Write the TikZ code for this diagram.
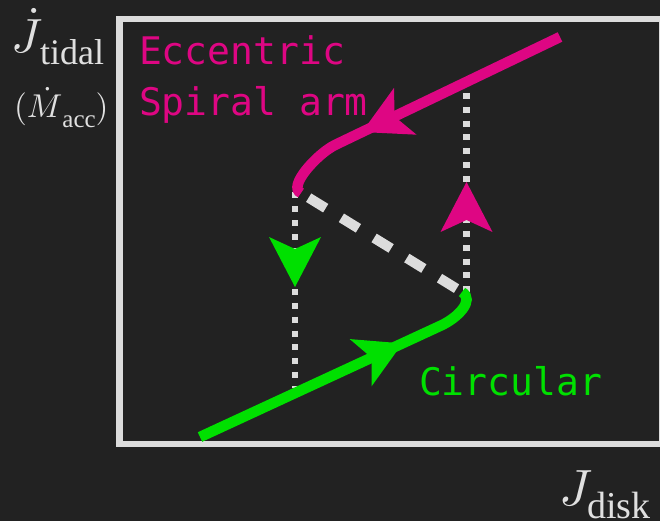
\documentclass[tikz,border=0pt]{standalone}
\usepackage{fontspec}
\DeclareFontShape{OML}{cmm}{m}{it}{<->cmmi10}{}
\DeclareFontShape{OT1}{cmr}{m}{n}{<->cmr10}{}
\DeclareFontShape{OMS}{cmsy}{m}{n}{<->cmsy10}{}
\DeclareFontShape{OMX}{cmex}{m}{n}{<->cmex10}{}
\newfontfamily\monoF{DejaVu Sans Mono}
\newfontfamily\serifT{Liberation Serif}
\usetikzlibrary{arrows.meta,decorations.markings}
\definecolor{bgc}{HTML}{222222}
\definecolor{pinkc}{HTML}{DE0683}
\definecolor{greenc}{HTML}{00E000}
\definecolor{grayc}{HTML}{DCDCDC}
\definecolor{labc}{HTML}{E0E0E0}
\begin{document}
\begin{tikzpicture}[x=1pt,y=-1pt,
  curve/.style={line width=10.5pt, line cap=butt},
  dotline/.style={grayc, line width=6.5pt, dash pattern=on 6pt off 7.8pt},
  dashline/.style={grayc, line width=10pt, dash pattern=on 20pt off 18.4pt, dash phase=29.4pt},
  lbl/.style={anchor=base west, inner sep=0pt, outer sep=0pt, text=labc},
  monolbl/.style={anchor=base west, inner sep=0pt, outer sep=0pt, font=\monoF\fontsize{38}{51}\selectfont, align=left}
]
\useasboundingbox (0,0) rectangle (660,521);
\fill[bgc] (0,0) rectangle (660,521);
\draw[grayc, line width=6.5pt] (119.5,19) rectangle (662,444);

% coordinates
\coordinate (mA) at (560,37);
\coordinate (mB) at (335,145);
\coordinate (mE) at (301,193);
\coordinate (gA) at (200,437);
\coordinate (gB) at (440,326);
\coordinate (gE) at (462,292);
\coordinate (lT) at (295,192.5);
\coordinate (lB) at (295,388);
\coordinate (rT) at (466.5,93);
\coordinate (rB) at (466.5,292);

% dotted verticals with arrows
\draw[dotline, postaction={decorate}, decoration={markings, mark=at position 94.5pt with {\arrow[greenc]{Stealth[length=50pt, width=52pt, inset=12pt, line width=0pt]}}}] (lT) -- (lB);
\draw[dotline, postaction={decorate}, decoration={markings, mark=at position 89pt with {\arrowreversed[pinkc]{Stealth[length=50pt, width=52pt, inset=12pt, line width=0pt]}}}] (rT) -- (rB);

% dashed unstable branch
\draw[dashline] (mE) -- (gE);

% magenta branch
\draw[curve, pinkc, postaction={decorate}, decoration={markings, mark=at position 219.6pt with {\arrow{Stealth[length=48pt, width=52pt, inset=12pt, line width=0pt]}}}]
  (mA) -- (mB) .. controls (317,154) and (287,187) .. (mE);

% green branch
\draw[curve, greenc, postaction={decorate}, decoration={markings, mark=at position 223pt with {\arrow{Stealth[length=46pt, width=52pt, inset=12pt, line width=0pt]}}}]
  (gA) -- (gB) .. controls (458,318) and (475,300) .. (gE);

% labels
\node[monolbl, text=pinkc] (ecc) at (139,116) {Eccentric\\Spiral arm};
\node[monolbl, text=greenc] (circ) at (419,395) {Circular};

\node[lbl] (jt) at (11,53) {{\fontsize{48}{56}\selectfont$\dot{J}$}\kern-2pt\raisebox{-12pt}{\fontsize{36}{44}\selectfont\serifT tidal}};
\node[lbl] (macc) at (14,118) {\fontsize{33}{40}\selectfont$(\dot{M}$\raisebox{-10pt}{\fontsize{25}{30}\selectfont\serifT acc}$)$};
\node[lbl] (jd) at (559,505) {{\fontsize{51}{60}\selectfont$J$}\kern-5pt\raisebox{-13pt}{\fontsize{38}{46}\selectfont\serifT disk}};
\end{tikzpicture}
\end{document}
